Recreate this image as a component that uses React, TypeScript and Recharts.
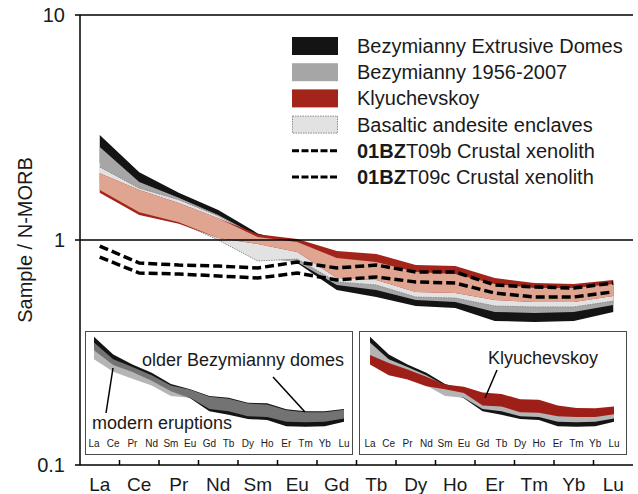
import React from "react";
import {
  Area,
  ComposedChart,
  Label,
  Legend,
  Line,
  ReferenceLine,
  XAxis,
  YAxis,
} from "recharts";

const FONT = "'Liberation Sans', Arial, Helvetica, sans-serif";

const elements = ["La", "Ce", "Pr", "Nd", "Sm", "Eu", "Gd", "Tb", "Dy", "Ho", "Er", "Tm", "Yb", "Lu"];

// Bezymianny extrusive domes (older)
const domesTop = [2.93, 2.0, 1.62, 1.36, 1.07, 0.96, 0.83, 0.8, 0.72, 0.71, 0.625, 0.6, 0.6, 0.63];
const domesBottom = [2.2, 1.6, 1.38, 1.15, 0.92, 0.79, 0.6, 0.558, 0.509, 0.499, 0.437, 0.432, 0.437, 0.479];

// Bezymianny 1956-2007 (modern eruptions)
const modernTop = [2.59, 1.81, 1.54, 1.29, 1.04, 0.95, 0.815, 0.782, 0.706, 0.692, 0.612, 0.588, 0.588, 0.618];
const modernBottom = [1.81, 1.39, 1.2, 1.04, 0.832, 0.798, 0.631, 0.6, 0.541, 0.53, 0.479, 0.474, 0.479, 0.514];

// Klyuchevskoy
const klyuTop = [1.98, 1.67, 1.46, 1.25, 1.06, 1.01, 0.894, 0.867, 0.774, 0.766, 0.678, 0.644, 0.638, 0.664];
const klyuBottom = [1.62, 1.29, 1.18, 1.02, 0.96, 0.885, 0.678, 0.664, 0.588, 0.581, 0.541, 0.53, 0.53, 0.564];

// Basaltic andesite enclaves
const enclaveTop = [2.11, 1.7, 1.51, 1.28, 1.03, 0.98, 0.832, 0.798, 0.721, 0.706, 0.638, 0.612, 0.612, 0.638];
const enclaveBottom = [1.67, 1.33, 1.2, 1.0, 0.807, 0.823, 0.651, 0.631, 0.558, 0.552, 0.509, 0.504, 0.504, 0.535];

// crustal xenoliths
const xenolith09b = [0.94, 0.79, 0.774, 0.766, 0.751, 0.798, 0.751, 0.774, 0.721, 0.721, 0.631, 0.618, 0.612, 0.644];
const xenolith09c = [0.84, 0.713, 0.706, 0.692, 0.678, 0.713, 0.664, 0.685, 0.651, 0.644, 0.581, 0.558, 0.558, 0.588];

const yTicks = [0.1, 1, 10];

const COLORS = {
  domes: "#141414",
  modern: "#a6a6a6",
  klyu: "#a3241b",
  overlap: "#dfa590",
  enclave: "#e2e2e2",
};

const rows = elements.map((el, i) => ({
  el,
  domes: [domesBottom[i], domesTop[i]],
  modern: [modernBottom[i], modernTop[i]],
  klyu: [klyuBottom[i], klyuTop[i]],
  enclave: [enclaveBottom[i], enclaveTop[i]],
  // where the enclave field lies over Klyuchevskoy it reads as salmon
  overlap: [Math.max(klyuBottom[i], enclaveBottom[i]), Math.min(klyuTop[i], enclaveTop[i])],
  xb: xenolith09b[i],
  xc: xenolith09c[i],
}));

function ElementTick(props: any) {
  const { x, y, payload, index } = props;
  const half = payload && payload.offset ? payload.offset : 19.75;
  return (
    <g>
      {index > 0 && (
        <line x1={x - half} x2={x - half} y1={y - 5} y2={y} stroke="#000" strokeWidth={1.5} />
      )}
      <text x={x} y={y + 26} textAnchor="middle" fontSize={19} fontFamily={FONT} fill="#1a1a1a">
        {payload.value}
      </text>
    </g>
  );
}

const legendItems = [
  { label: "Bezymianny Extrusive Domes", kind: "fill", color: COLORS.domes },
  { label: "Bezymianny 1956-2007", kind: "fill", color: COLORS.modern },
  { label: "Klyuchevskoy", kind: "fill", color: COLORS.klyu },
  { label: "Basaltic andesite enclaves", kind: "stipple", color: COLORS.enclave },
  { label: "T09b Crustal xenolith", kind: "dash", color: "#000" },
  { label: "T09c Crustal xenolith", kind: "dash", color: "#000" },
];

function LegendBox() {
  return (
    <svg width={350} height={165} style={{ display: "block" }}>
      {legendItems.map((item, i) => {
        const cy = 16 + i * 26.2;
        return (
          <g key={item.label}>
            {item.kind === "fill" && (
              <rect x={7} y={cy - 9} width={46} height={18} fill={item.color} />
            )}
            {item.kind === "stipple" && (
              <rect
                x={7.5}
                y={cy - 8.5}
                width={45}
                height={17}
                fill={item.color}
                stroke="#8a8a8a"
                strokeDasharray="1.5 1"
              />
            )}
            {item.kind === "dash" && (
              <line x1={7} x2={53} y1={cy} y2={cy} stroke="#000" strokeWidth={3} strokeDasharray="7 2.5" />
            )}
            <text x={72} y={cy} dominantBaseline="central" fontSize={20} fontFamily={FONT} fill="#1a1a1a">
              {item.kind === "dash" && <tspan fontWeight="bold">01BZ</tspan>}
              {item.label}
            </text>
          </g>
        );
      })}
    </svg>
  );
}

function Inset({ withKlyu, padLeft, padRight }: { withKlyu: boolean; padLeft: number; padRight: number }) {
  return (
    <ComposedChart width={265} height={121} data={rows} margin={{ top: 2, right: 0, bottom: 0, left: 0 }}>
      <XAxis
        dataKey="el"
        scale="point"
        interval={0}
        padding={{ left: padLeft, right: padRight }}
        axisLine={false}
        tickLine={false}
        tickSize={0}
        tickMargin={6}
        height={19}
        tick={{ fontSize: 10, fill: "#1a1a1a", fontFamily: FONT }}
      />
      <YAxis hide scale="log" domain={[0.37, 3.1]} allowDataOverflow />
      <Area type="linear" dataKey="domes" fill={COLORS.domes} fillOpacity={1} stroke="none" isAnimationActive={false} />
      <Area
        type="linear"
        dataKey="modern"
        fill={withKlyu ? "#b4b4b4" : "#999999"}
        fillOpacity={withKlyu ? 1 : 0.72}
        stroke="none"
        isAnimationActive={false}
      />
      {withKlyu && (
        <Area type="linear" dataKey="klyu" fill="#9e1f18" fillOpacity={1} stroke="none" isAnimationActive={false} />
      )}
    </ComposedChart>
  );
}

const boxStyle: React.CSSProperties = {
  position: "absolute",
  boxSizing: "border-box",
  border: "1.5px solid #4a4a4a",
  background: "#fff",
  height: 124,
  width: 268,
  top: 331,
};

export default function App() {
  return (
    <div style={{ position: "relative", width: 638, height: 494, fontFamily: FONT, background: "#fff" }}>
      <style>{"body{margin:0}"}</style>
      <ComposedChart width={638} height={494} data={rows} margin={{ top: 15, right: 5, bottom: 0, left: 0 }}>
        <XAxis
          dataKey="el"
          scale="band"
          interval={0}
          height={29}
          tickLine={false}
          tickSize={0}
          tickMargin={0}
          axisLine={{ stroke: "#000", strokeWidth: 1.5 }}
          tick={<ElementTick />}
        />
        <YAxis
          scale="log"
          domain={[0.1, 10]}
          ticks={yTicks}
          allowDataOverflow
          width={80}
          tickSize={5}
          tickMargin={10}
          tickFormatter={(v: number) => String(v)}
          axisLine={{ stroke: "#000", strokeWidth: 1.5 }}
          tickLine={{ stroke: "#000", strokeWidth: 1.5 }}
          tick={{ fontSize: 20, fill: "#1a1a1a", fontFamily: FONT }}
        >
          <Label
            content={() => (
              <text
                x={25}
                y={240}
                transform="rotate(-90 25 240)"
                textAnchor="middle"
                dominantBaseline="central"
                fontSize={20}
                fontFamily={FONT}
                fill="#1a1a1a"
              >
                Sample / N-MORB
              </text>
            )}
          />
        </YAxis>
        <YAxis
          yAxisId="right"
          orientation="right"
          width={0}
          scale="log"
          domain={[0.1, 10]}
          tick={false}
          tickLine={false}
          axisLine={{ stroke: "#000", strokeWidth: 1.5 }}
        />
        <ReferenceLine y={10} stroke="#000" strokeWidth={1.5} />
        <ReferenceLine y={1} stroke="#000" strokeWidth={1.5} />
        <Legend
          layout="vertical"
          align="center"
          verticalAlign="middle"
          content={() => <LegendBox />}
          wrapperStyle={{ left: 285, top: 30, width: 350, height: 165 }}
        />
        <Area type="linear" dataKey="domes" fill={COLORS.domes} fillOpacity={1} stroke="none" isAnimationActive={false} />
        <Area type="linear" dataKey="modern" fill={COLORS.modern} fillOpacity={1} stroke="none" isAnimationActive={false} />
        <Area
          type="linear"
          dataKey="enclave"
          fill={COLORS.enclave}
          fillOpacity={1}
          stroke="#8a8a8a"
          strokeWidth={1}
          strokeDasharray="1.5 1"
          isAnimationActive={false}
        />
        <Area type="linear" dataKey="klyu" fill={COLORS.klyu} fillOpacity={1} stroke="none" isAnimationActive={false} />
        <Area type="linear" dataKey="overlap" fill={COLORS.overlap} fillOpacity={1} stroke="none" isAnimationActive={false} />
        <Line
          type="linear"
          dataKey="xb"
          stroke="#000"
          strokeWidth={3.5}
          strokeDasharray="9 4"
          dot={false}
          activeDot={false}
          isAnimationActive={false}
        />
        <Line
          type="linear"
          dataKey="xc"
          stroke="#000"
          strokeWidth={3.5}
          strokeDasharray="9 4"
          dot={false}
          activeDot={false}
          isAnimationActive={false}
        />
      </ComposedChart>

      <div style={{ ...boxStyle, left: 85 }}>
        <Inset withKlyu={false} padLeft={8} padRight={7} />
      </div>
      <div style={{ ...boxStyle, left: 359 }}>
        <Inset withKlyu padLeft={10} padRight={11} />
      </div>

      <svg
        width={638}
        height={494}
        style={{ position: "absolute", left: 0, top: 0, pointerEvents: "none" }}
        fontFamily={FONT}
      >
        <text x={142} y={360} dominantBaseline="central" fontSize={18} fill="#1a1a1a">
          older Bezymianny domes
        </text>
        <line x1={273} y1={377} x2={305} y2={412} stroke="#000" strokeWidth={1.5} />
        <text x={92} y={423} dominantBaseline="central" fontSize={18} fill="#1a1a1a">
          modern eruptions
        </text>
        <line x1={106} y1={413} x2={113} y2={368} stroke="#000" strokeWidth={1.5} />
        <text x={488} y={358} dominantBaseline="central" fontSize={18} fill="#1a1a1a">
          Klyuchevskoy
        </text>
        <line x1={497} y1={370} x2={485} y2={398} stroke="#000" strokeWidth={1.5} />
      </svg>
    </div>
  );
}
